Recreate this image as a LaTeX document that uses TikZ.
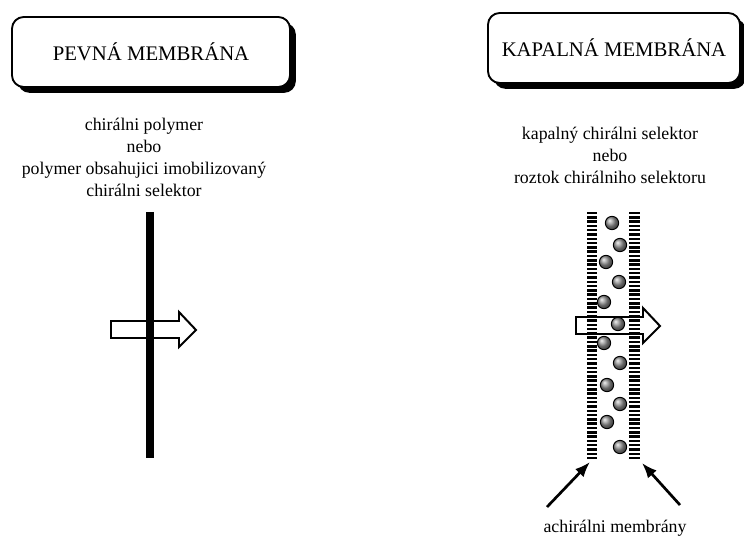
\documentclass[tikz,border=0pt]{standalone}
\usepackage{fontspec}
\setmainfont{Liberation Serif}
\usetikzlibrary{shadows,arrows.meta}

\begin{document}
\begin{tikzpicture}[x=0.03cm,y=-0.03cm,
	nadpis/.style={draw,line width=1.6pt,rounded corners=10pt,fill=white,minimum height=2.1cm,inner sep=0pt,font=\fontsize{17.7}{20}\selectfont,drop shadow={fill=black,opacity=1,shadow xshift=5pt,shadow yshift=-5pt}},
	popis/.style={align=center,font=\fontsize{15.2}{18.8}\selectfont,inner sep=0pt},
	sipka/.style={draw,line width=1.7pt,line join=miter},
	carka/.style={line width=2.1pt},
	kulicka/.style={ball color=gray!85,draw=black,line width=0.8pt},
	ukazatel/.style={line width=2.3pt,-{Latex[length=13pt,width=10pt]}}]
			\useasboundingbox (0,0) rectangle (744,540);
			\node[nadpis,minimum width=8.34cm] (pevna) at (151,52) {PEVNÁ MEMBRÁNA};
			\node[nadpis,minimum width=7.56cm] (kapalna) at (614,48) {KAPALNÁ MEMBRÁNA};
			\node[popis] (pevnapopis) at (144,157) {chirálni polymer\\nebo\\polymer obsahujici imobilizovaný\\chirálni selektor};
			\node[popis] (kapalnapopis) at (610,155) {kapalný chirálni selektor\\nebo\\roztok chirálniho selektoru};
			\node[popis] (achiral) at (615,528) {achirálni membrány};
			\draw[sipka] (111,321) -- (179,321) -- (179,312) -- (196,330) -- (179,347) -- (179,338) -- (111,338) -- cycle;
			\draw[line width=6pt] (150,212) -- (150,458);
			\foreach \y in {213,217.3,...,460} {
				\draw[carka] (587,\y) -- (597,\y);
				\draw[carka] (629,\y) -- (640,\y);
			}
			\draw[sipka] (576,317) -- (643,317) -- (643,308) -- (660,326) -- (643,343) -- (643,334) -- (576,334) -- cycle;
			\foreach \x/\y in {612/223,620/245,606/262,619/282,604/302,618/324,604/343,620/363,607/385,620/404,607/422,620/447}
				\shadedraw[kulicka] (\x,\y) circle[radius=0.2cm];
			\coordinate (levydole) at (590,462);
			\coordinate (pravydole) at (642,463);
			\coordinate (levyzacatek) at (547,507);
			\coordinate (pravyzacatek) at (680,505);
			\draw[ukazatel] (levyzacatek) -- (levydole);
			\draw[ukazatel] (pravyzacatek) -- (pravydole);
		\end{tikzpicture}
\end{document}
